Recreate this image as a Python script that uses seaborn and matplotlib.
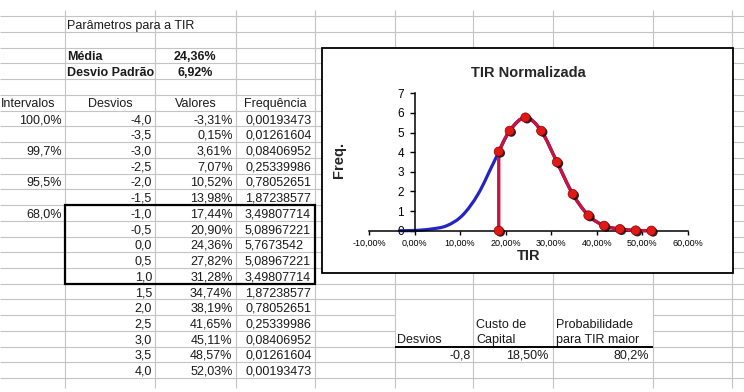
import numpy as np
import matplotlib
matplotlib.use("Agg")
import matplotlib.pyplot as plt
import seaborn as sns
from matplotlib.path import Path
from matplotlib.patches import PathPatch, Rectangle
from matplotlib.ticker import FuncFormatter, FixedLocator
import matplotlib.patheffects as pe

media = 24.36
desvio_padrao = 6.92
desvios = [-4.0, -3.5, -3.0, -2.5, -2.0, -1.5, -1.0, -0.5, 0.0,
           0.5, 1.0, 1.5, 2.0, 2.5, 3.0, 3.5, 4.0]
valores = [-3.31, 0.15, 3.61, 7.07, 10.52, 13.98, 17.44, 20.90, 24.36,
           27.82, 31.28, 34.74, 38.19, 41.65, 45.11, 48.57, 52.03]
frequencia = [0.00193473, 0.01261604, 0.08406952, 0.25339986, 0.78052651,
              1.87238577, 3.49807714, 5.08967221, 5.7673542, 5.08967221,
              3.49807714, 1.87238577, 0.78052651, 0.25339986, 0.08406952,
              0.01261604, 0.00193473]
intervalos = ["100,0%", "99,7%", "95,5%", "68,0%"]
intervalos_row = [0, 2, 4, 6]          # index into desvios
custo_capital = 18.50
freq_custo = 4.03
desvio_custo = -0.8
prob_tir_maior = 80.2
x_ticks = [-10, 0, 10, 20, 30, 40, 50, 60]
y_ticks = [0, 1, 2, 3, 4, 5, 6, 7]

# red series: from the cost of capital up
red_x = [custo_capital, custo_capital] + valores[7:]
red_y = [0.0, freq_custo] + frequencia[7:]


def pct(v, dec=2):
    return f"{v:.{dec}f}%".replace(".", ",")


def smooth_path(xs, ys, start=0):
    # bezier through the points, like excel's "smoothed line"
    pts = np.column_stack([xs, ys]).astype(float)
    verts = [pts[0]]
    codes = [Path.MOVETO]
    for i in range(len(pts) - 1):
        if i < start:
            verts.append(pts[i + 1])
            codes.append(Path.LINETO)
            continue
        p0 = pts[i - 1] if i - 1 >= start else pts[i]
        p1, p2 = pts[i], pts[i + 1]
        p3 = pts[i + 2] if i + 2 < len(pts) else pts[i + 1]
        verts += [p1 + (p2 - p0) / 6, p2 - (p3 - p1) / 6, p2]
        codes += [Path.CURVE4] * 3
    return Path(verts, codes)


def main():
    sns.set_theme(style="white")
    plt.rcParams["font.family"] = ["Liberation Sans", "DejaVu Sans"]

    W, H = 744, 392
    fig = plt.figure(figsize=(W / 100, H / 100), dpi=100)

    # ---- spreadsheet background, in pixel coordinates ----
    bg = fig.add_axes([0, 0, 1, 1])
    bg.set_xlim(0, W)
    bg.set_ylim(H, 0)
    bg.axis("off")

    grid = "#c4c4c4"
    col_x = [65, 155, 236, 315, 395, 473.3, 552.7, 652.7, 732.3]
    row0, row_h = 16.3, 15.73
    row_y = [row0 + row_h * k for k in range(24)]

    for k, y in enumerate(row_y):
        if k in (19, 20):
            bg.hlines(y, 0, 395, color=grid, lw=0.8)
            bg.hlines(y, 652.7, W, color=grid, lw=0.8)
        else:
            bg.hlines(y, 0, W, color=grid, lw=0.8)
    bg.vlines(col_x, 9.5, 388, color=grid, lw=0.8)

    def cell(x, k, s, ha="left", bold=False):
        bg.text(x, row0 + row_h * (k + 0.5), s, ha=ha, va="center_baseline",
                fontsize=9, fontweight="bold" if bold else "normal", color="#1a1a1a")

    cell(67, 0, "Parâmetros para a TIR")
    cell(67, 2, "Média", bold=True)
    cell(195, 2, pct(media), ha="center", bold=True)
    cell(67, 3, "Desvio Padrão", bold=True)
    cell(195, 3, pct(desvio_padrao), ha="center", bold=True)

    cell(1, 5, "Intervalos")
    cell(110, 5, "Desvios", ha="center")
    cell(196, 5, "Valores", ha="center")
    cell(275.5, 5, "Frequência", ha="center")

    for i, (d, v, f) in enumerate(zip(desvios, valores, frequencia)):
        cell(152, 6 + i, f"{d:.1f}".replace(".", ","), ha="right")
        cell(232.5, 6 + i, pct(v), ha="right")
        cell(245, 6 + i, str(f).replace(".", ","))
    for lab, r in zip(intervalos, intervalos_row):
        cell(62, 6 + r, lab, ha="right")

    # thick box around +-1 sd
    bg.add_patch(Rectangle((64.5, row_y[12]), 250, row_y[17] - row_y[12],
                           fill=False, ec="black", lw=1.6, zorder=3))

    # bottom little table
    cell(397, 20, "Desvios")
    cell(476, 19, "Custo de")
    cell(476, 20, "Capital")
    cell(556, 19, "Probabilidade")
    cell(556, 20, "para TIR maior")
    bg.hlines(row_y[21], 395, 652.7, color="black", lw=1.4)
    cell(471, 21, f"{desvio_custo:.1f}".replace(".", ","), ha="right")
    cell(548.5, 21, pct(custo_capital), ha="right")
    cell(648.5, 21, pct(prob_tir_maior, 1), ha="right")

    # chart frame
    bg.add_patch(Rectangle((321.7, 48.3), 733.3 - 321.7, 273.3 - 48.3,
                           fc="white", ec="black", lw=1.3, zorder=4))

    # ---- the chart ----
    x0, x1, y0, y1 = 369, 687.7, 230.7, 93.3
    ax = fig.add_axes([x0 / W, 1 - y0 / H, (x1 - x0) / W, (y0 - y1) / H])
    ax.set_facecolor("none")
    ax.set_xlim(-10, 60)
    ax.set_ylim(0, 7)

    blue = PathPatch(smooth_path(valores, frequencia), fill=False,
                     ec="#2424c4", lw=2.3, clip_on=False, zorder=2,
                     capstyle="round", joinstyle="round")
    ax.add_patch(blue)
    red = PathPatch(smooth_path(red_x, red_y, start=1), fill=False,
                    ec="#c8143c", lw=2.4, clip_on=False, zorder=3,
                    capstyle="round", joinstyle="round")
    ax.add_patch(red)

    sns.scatterplot(x=red_x, y=red_y, ax=ax, s=44, color="#e01818",
                    edgecolor="#900000", linewidth=0.5, zorder=4, clip_on=False)
    for c in ax.collections:
        c.set_path_effects([pe.SimplePatchShadow(offset=(1.2, -1.0), shadow_rgbFace="black",
                                                 alpha=0.85), pe.Normal()])

    for s in ("top", "right"):
        ax.spines[s].set_visible(False)
    ax.spines["left"].set_position(("data", 0))
    for s in ("left", "bottom"):
        ax.spines[s].set_color("black")
        ax.spines[s].set_linewidth(1.1)

    ax.xaxis.set_major_locator(FixedLocator(x_ticks))
    ax.yaxis.set_major_locator(FixedLocator(y_ticks))
    ax.xaxis.set_major_formatter(FuncFormatter(lambda v, p: pct(v)))
    ax.tick_params(axis="x", direction="out", length=3, width=1, pad=3,
                   labelsize=6.5, colors="black", bottom=True)
    ax.tick_params(axis="y", direction="out", length=3.5, width=1, pad=4,
                   labelsize=8.5, colors="black", left=True)
    ax.grid(False)

    ax.set_title("TIR Normalizada", fontsize=10.5, fontweight="bold", pad=12)
    ax.set_xlabel("TIR", fontsize=10.5, fontweight="bold")
    ax.xaxis.set_label_coords(0.5, -0.184)
    ax.xaxis.label.set_va("center")
    ax.set_ylabel("Freq.", fontsize=10.5, fontweight="bold")
    ax.yaxis.set_label_coords(-0.093, 0.512)
    ax.yaxis.label.set_va("center")

    fig.savefig("out.png", dpi=100)


if __name__ == "__main__":
    main()
